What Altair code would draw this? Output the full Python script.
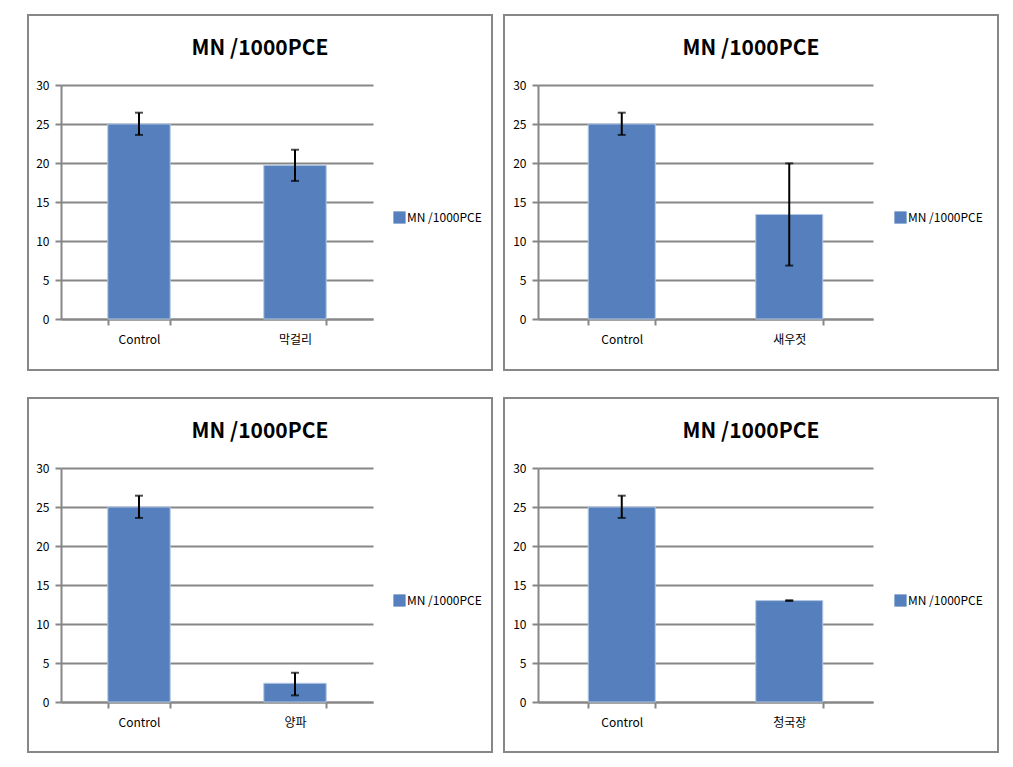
import altair as alt
import pandas as pd

series_name = "MN /1000PCE"
control_label = "Control"
treat_labels = ["막걸리", "새우젓", "양파", "청국장"]
control_mean = 25.0
control_lo = 23.6
control_hi = 26.45
treat_means = [19.7, 13.4, 2.4, 13.0]
treat_lo = [17.7, 6.85, 0.85, 12.95]
treat_hi = [21.7, 19.95, 3.75, 13.05]
y_ticks = [0, 5, 10, 15, 20, 25, 30]

BAR = "#5580BD"
GRID = "#878787"
FONT = "Noto Sans CJK KR, sans-serif"


def panel(i, width, height, ax_left, plot_right, legend_x):
    df = pd.DataFrame({
        "cat": [control_label, treat_labels[i]],
        "val": [control_mean, treat_means[i]],
        "lo": [control_lo, treat_lo[i]],
        "hi": [control_hi, treat_hi[i]],
        "series": [series_name, series_name],
    })
    xenc = alt.X(
        "cat:N", sort=None, title=None,
        scale=alt.Scale(range=[ax_left, plot_right], paddingInner=0.6, paddingOuter=0.3),
        axis=alt.Axis(offset=-(height - 304), tickBand="extent", labelAngle=0,
                      domainColor=GRID, domainWidth=2, tickColor=GRID, tickWidth=2,
                      tickSize=6, labelPadding=9, labelFontSize=12, labelFont=FONT,
                      labelColor="#000000", grid=False),
    )
    yaxis = alt.Axis(values=y_ticks, offset=-ax_left, grid=True, gridColor=GRID,
                     gridWidth=2, domainColor=GRID, domainWidth=2, tickColor=GRID,
                     tickWidth=2, tickSize=6, labelPadding=6, labelFontSize=12,
                     labelFont=FONT, labelColor="#000000", title=None)
    yscale = alt.Scale(domain=[0, 30], range=[304, 70], nice=False)
    base = alt.Chart(df)
    bars = base.mark_bar(stroke="#B3C7E2", strokeWidth=1).encode(
        x=xenc,
        y=alt.Y("val:Q", scale=yscale, axis=yaxis),
        color=alt.Color("series:N", scale=alt.Scale(range=[BAR]),
                        legend=alt.Legend(title=None, orient="none", legendX=legend_x,
                                          legendY=196, symbolType="square",
                                          symbolSize=150, symbolStrokeWidth=0,
                                          labelFontSize=12, labelFont=FONT,
                                          labelColor="#000000", labelOffset=1)),
    )
    rule = base.mark_rule(color="black", strokeWidth=2).encode(
        x=xenc, y=alt.Y("lo:Q", scale=yscale, axis=yaxis), y2="hi:Q")
    cap_lo = base.mark_tick(color="black", thickness=2, size=8).encode(
        x=xenc, y=alt.Y("lo:Q", scale=yscale, axis=yaxis))
    cap_hi = base.mark_tick(color="black", thickness=2, size=8).encode(
        x=xenc, y=alt.Y("hi:Q", scale=yscale, axis=yaxis))
    return alt.layer(bars, rule, cap_lo, cap_hi).properties(
        width=width, height=height,
        title=alt.TitleParams(text=series_name, fontSize=21, fontWeight="bold",
                              font=FONT, anchor="middle", offset=-44, color="#000000"),
    )


p1 = panel(0, 464, 355, 33, 345, 365)
p2 = panel(1, 494, 355, 34, 369, 390)
p3 = panel(2, 464, 354, 33, 345, 365)
p4 = panel(3, 494, 354, 34, 369, 390)

chart = alt.vconcat(
    alt.hconcat(p1, p2, spacing=10).resolve_scale(color="independent").resolve_legend(color="independent"),
    alt.hconcat(p3, p4, spacing=10).resolve_scale(color="independent").resolve_legend(color="independent"),
    spacing=26,
).resolve_scale(color="independent").resolve_legend(color="independent").properties(
    padding={"left": 19, "top": 6, "right": 5, "bottom": 5},
    background="white",
).configure_view(
    stroke="#878787", strokeWidth=2, fill="white"
)

chart.save("out.html", embed_options={"renderer": "svg", "actions": False})
